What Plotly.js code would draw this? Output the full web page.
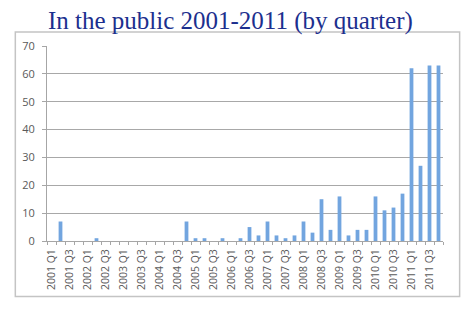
<!DOCTYPE html>
<html>
<head>
<meta charset="utf-8">
<script src="https://cdn.plot.ly/plotly-3.0.1.min.js"></script>
<style>html,body{margin:0;padding:0;background:#fff;}#chart{width:475px;height:312px;}</style>
</head>
<body>
<div id="chart"></div>
<script>
// Quarters 2001 Q1 .. 2011 Q4
const quarters = [
 "2001 Q1","2001 Q2","2001 Q3","2001 Q4",
 "2002 Q1","2002 Q2","2002 Q3","2002 Q4",
 "2003 Q1","2003 Q2","2003 Q3","2003 Q4",
 "2004 Q1","2004 Q2","2004 Q3","2004 Q4",
 "2005 Q1","2005 Q2","2005 Q3","2005 Q4",
 "2006 Q1","2006 Q2","2006 Q3","2006 Q4",
 "2007 Q1","2007 Q2","2007 Q3","2007 Q4",
 "2008 Q1","2008 Q2","2008 Q3","2008 Q4",
 "2009 Q1","2009 Q2","2009 Q3","2009 Q4",
 "2010 Q1","2010 Q2","2010 Q3","2010 Q4",
 "2011 Q1","2011 Q2","2011 Q3","2011 Q4"
];
const counts = [
 0,7,0,0,
 0,1,0,0,
 0,0,0,0,
 0,0,0,7,
 1,1,0,1,
 0,1,5,2,
 7,2,1,2,
 7,3,15,4,
 16,2,4,4,
 16,11,12,17,
 62,27,63,63
];
const tickLabels = [
 "2001 Q1","2001 Q3","2002 Q1","2002 Q3","2003 Q1","2003 Q3",
 "2004 Q1","2004 Q3","2005 Q1","2005 Q3","2006 Q1","2006 Q3",
 "2007 Q1","2007 Q3","2008 Q1","2008 Q3","2009 Q1","2009 Q3",
 "2010 Q1","2010 Q3","2011 Q1","2011 Q3"
];
const yTicks = [0,10,20,30,40,50,60,70];
const titleText = "In the public 2001-2011 (by quarter)";

const ticktext = quarters.map(q => tickLabels.includes(q) ? q : "");

const trace = {
  type: "bar",
  x: quarters,
  y: counts,
  marker: {color: "#72a5df", line: {width: 0}},
  hoverinfo: "x+y"
};

const layout = {
  width: 475, height: 312,
  margin: {l: 47, r: 32, t: 46, b: 71},
  paper_bgcolor: "#fff", plot_bgcolor: "#fff",
  bargap: 0.58,
  showlegend: false,
  font: {family: "Open Sans, DejaVu Sans, sans-serif", color: "#595959", size: 11},
  title: {
    text: titleText,
    font: {family: "Liberation Serif, DejaVu Serif, serif", size: 25, color: "#1c2f8e"},
    xref: "container", yref: "container",
    x: 0.485, xanchor: "center",
    y: 0.935, yanchor: "middle"
  },
  xaxis: {
    type: "category",
    tickmode: "array",
    tickvals: quarters,
    ticktext: ticktext,
    tickangle: -90,
    tickson: "boundaries",
    ticks: "outside", ticklen: 3, tickcolor: "#a6a6a6",
    ticklabelstandoff: 3,
    tickfont: {size: 10.5, color: "#595959"},
    showgrid: false,
    showline: true, linecolor: "#a6a6a6", linewidth: 1,
    range: [-0.5, 43.5]
  },
  yaxis: {
    range: [0, 70],
    tickmode: "array",
    tickvals: yTicks,
    ticks: "outside", ticklen: 4, tickcolor: "#a6a6a6",
    ticklabelstandoff: 5,
    tickfont: {size: 11, color: "#595959"},
    showgrid: true, gridcolor: "#a8a8a8", gridwidth: 1,
    showline: true, linecolor: "#a6a6a6", linewidth: 1,
    zeroline: false
  },
  shapes: [{
    type: "rect", xref: "paper", yref: "paper",
    x0: -0.08, x1: 1.042, y0: -0.285, y1: 1.072,
    line: {color: "#c4c4c4", width: 1.5},
    fillcolor: "rgba(0,0,0,0)", layer: "below"
  }]
};

Plotly.newPlot("chart", [trace], layout, {staticPlot: true, displayModeBar: false});
</script>
</body>
</html>
